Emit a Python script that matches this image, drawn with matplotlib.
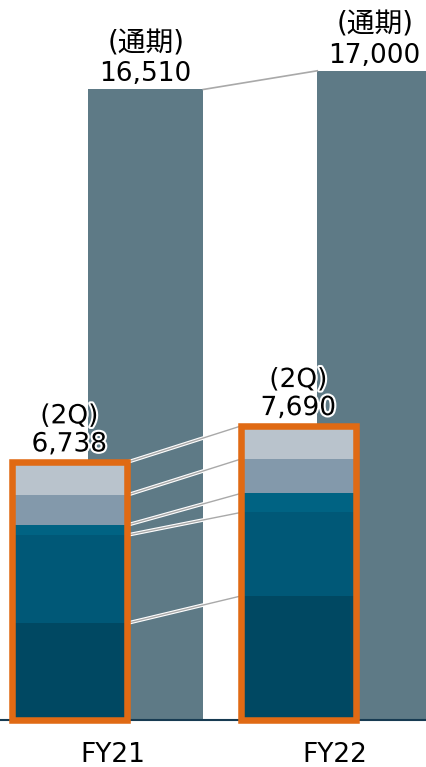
import matplotlib
matplotlib.use('Agg')
import matplotlib.pyplot as plt
import matplotlib.patheffects as pe
from matplotlib.patches import Rectangle
import numpy as np

plt.rcParams['font.family'] = ['DejaVu Sans', 'Noto Sans CJK JP']

# ---- data ----
years = ['FY21', 'FY22']
full_year = [16510, 17000]
q2_total = [6738, 7690]
seg_a = [2520, 3236]   # bottom
seg_b = [2310, 2189]
seg_c = [262, 499]
seg_d = [787, 900]
seg_e = [859, 866]     # top
full_label = '(通期)'
q2_label = '(2Q)'

# ---- style ----
seg_colors = ['#004862', '#005877', '#006383', '#8399AB', '#B9C3CC']
full_color = '#5E7A86'
orange = '#E06A14'
conn_color = '#A9A9A9'

fig = plt.figure(figsize=(4.27, 7.67), dpi=100)
ax = fig.add_axes([0, 47.5 / 767, 1, 719.5 / 767])

x = np.arange(len(years))
off = 0.167
w = 0.502

ax.bar(x + off, full_year, w, color=full_color, zorder=1)

segs = [seg_a, seg_b, seg_c, seg_d, seg_e]
bottom = np.zeros(len(years))
tops = []
for vals, col in zip(segs, seg_colors):
    vals = np.array(vals, dtype=float)
    ax.bar(x - off, vals, w, bottom=bottom, color=col, zorder=3)
    bottom = bottom + vals
    tops.append(bottom.copy())

# orange frames
for i in range(len(years)):
    ax.add_patch(Rectangle((x[i] - off - w / 2, 0), w, bottom[i], fill=False,
                           edgecolor=orange, lw=4.7, zorder=6, clip_on=False))

# connectors between stacks
for t in tops:
    ax.plot([x[0] - off + w / 2, x[1] - off - w / 2], [t[0], t[1]],
            color=conn_color, lw=1.0, zorder=4, solid_capstyle='butt',
            path_effects=[pe.withStroke(linewidth=2.6, foreground='white')])

# connector between full-year bars
ax.plot([x[0] + off + w / 2, x[1] + off - w / 2], full_year,
        color=conn_color, lw=1.2, zorder=2)

# labels
for i in range(len(years)):
    ax.annotate(f'{full_year[i]:,}', xy=(x[i] + off, full_year[i]),
                xytext=(0, 5.8), textcoords='offset points', ha='center',
                va='baseline', fontsize=19, zorder=8)
    ax.annotate(full_label, xy=(x[i] + off, full_year[i]),
                xytext=(0, 27.5), textcoords='offset points', ha='center',
                va='baseline', fontsize=20, zorder=8)
    ax.annotate(f'{q2_label}\n{q2_total[i]:,}', xy=(x[i] - off, q2_total[i]),
                xytext=(0, 7.9), textcoords='offset points', ha='center',
                va='baseline', fontsize=19, linespacing=1.1, zorder=8,
                path_effects=[pe.withStroke(linewidth=3, foreground='white')])

ax.set_xlim(-107.5 / 229, (427 - 107.5) / 229)
ax.set_ylim(0, 719.5 / 0.03816)
ax.set_xticks(x + np.array([0.022, -0.008]))
ax.set_xticklabels(years, fontsize=19)
ax.tick_params(axis='x', length=0, pad=16.5)
ax.set_yticks([])
for s in ['top', 'left', 'right']:
    ax.spines[s].set_visible(False)
ax.spines['bottom'].set_color('#173B52')
ax.spines['bottom'].set_linewidth(1.5)
ax.spines['bottom'].set_zorder(5)

fig.savefig('out.png', dpi=100)
